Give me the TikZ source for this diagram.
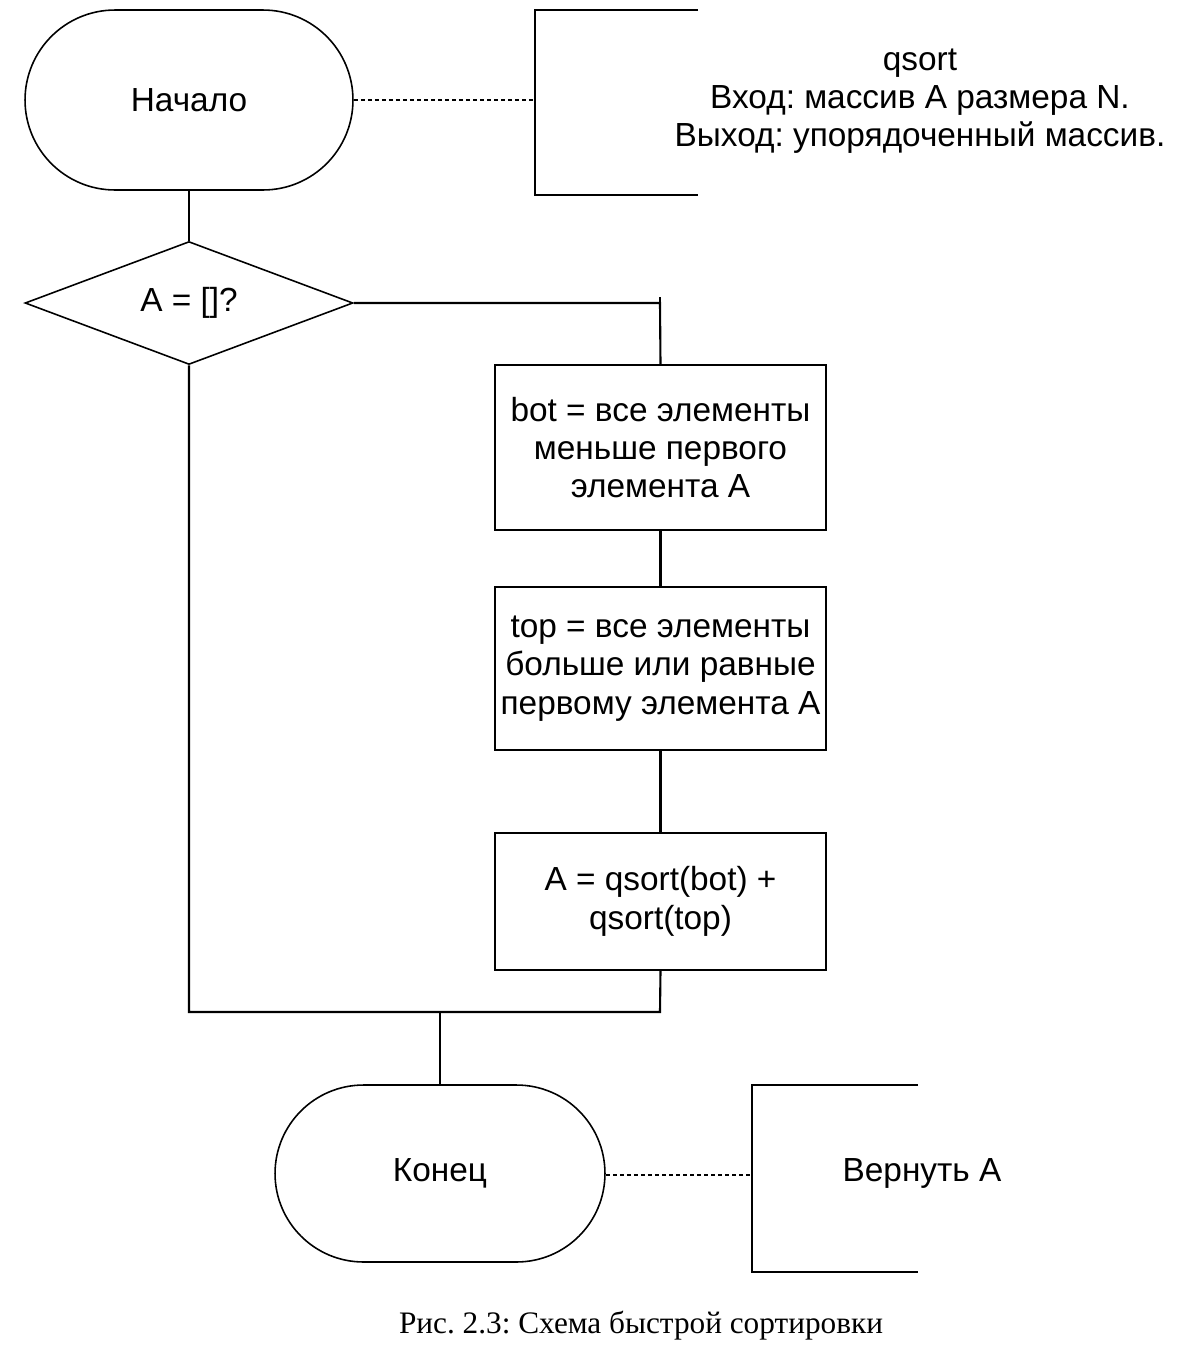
\documentclass[tikz,border=0pt]{standalone}
\usepackage{fontspec}
\setmainfont{Liberation Serif}
\newfontfamily\diagfont{Liberation Sans}
\usetikzlibrary{shapes.geometric}
\begin{document}
\frenchspacing
\begin{tikzpicture}[x=0.02cm,y=-0.02cm,
  every node/.style={font=\diagfont\fontsize{19}{21.8}\selectfont},
  ln/.style={line width=1.2pt},
  term/.style={draw,line width=0.9pt,rounded corners=1.77cm,minimum width=6.6cm,minimum height=3.54cm,inner sep=0pt},
  proc/.style={draw,line width=1.2pt,minimum width=6.62cm,align=center,inner sep=0pt},
  dec/.style={draw,diamond,line width=0.9pt,minimum width=6.56cm,minimum height=2.46cm,aspect=2.67,inner sep=0pt},
  dsh/.style={line width=0.6pt,dash pattern=on 2.3pt off 1.7pt},
  brk/.style={line width=1.2pt}]
\useasboundingbox (0,0) rectangle (1180,1360);
\node[term,minimum width=6.56cm,minimum height=3.6cm,rounded corners=1.8cm] (start) at (189,100) {Начало};
\node[dec] (cond) at (189,303) {A = []?};
\node[proc,minimum height=3.3cm] (b1) at (660.5,447.5) {bot = все элементы\\меньше первого\\элемента A};
\node[proc,minimum height=3.26cm] (b2) at (660.5,668.5) {top = все элементы\\больше или равные\\первому элемента A};
\node[proc,minimum height=2.74cm] (b3) at (660.5,901.5) {A = qsort(bot) +\\qsort(top)};
\node[term] (end) at (440,1173.5) {Конец};
% annotations
\coordinate (a1t) at (698,10);
\coordinate (a1b) at (698,195);
\coordinate (a1m) at (535,100);
\draw[brk] (a1t) -- (535,10) -- (535,195) -- (a1b);
\node[align=center] (t1) at (920,101) {qsort\\Вход: массив A размера N.\\Выход: упорядоченный массив.};
\draw[dsh] (start.east) -- (a1m);
\coordinate (a2t) at (918,1085);
\coordinate (a2b) at (918,1272);
\coordinate (a2m) at (752,1175);
\draw[brk] (a2t) -- (752,1085) -- (752,1272) -- (a2b);
\node (t2) at (922,1173) {Вернуть A};
\draw[dsh] (end.east |- a2m) -- (a2m);
% connectors
\draw[ln] (start.south) -- (cond.north);
\coordinate (c1) at (660,303);
\coordinate (j) at (189,1012);
\coordinate (k) at (660,1012);
\coordinate (m) at (440,1012);
\draw[ln] (cond.east) -- (c1) -- (b1.north);
\draw[ln] (660,297) -- (c1);
\draw[ln] (b1.south) -- (b2.north);
\draw[ln] (b2.south) -- (b3.north);
\draw[ln] (cond.south) -- (j) -- (k) -- (b3.south);
\draw[ln] (m) -- (end.north);
\node[font=\rmfamily\fontsize{17.8}{20}\selectfont] (cap) at (641,1326) {Рис. 2.3: Схема быстрой сортировки};
\end{tikzpicture}
\end{document}
